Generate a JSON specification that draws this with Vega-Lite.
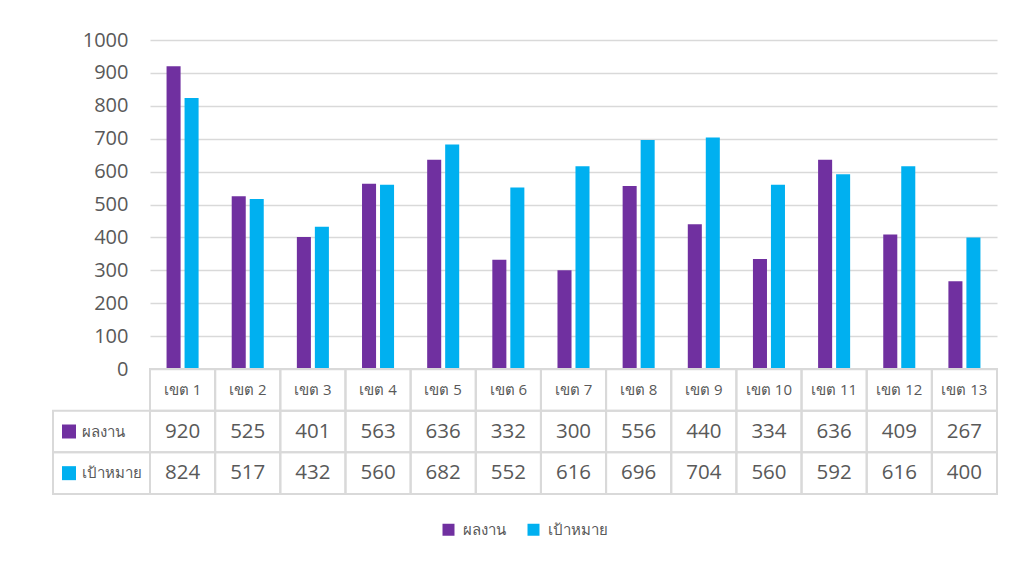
{
  "$schema": "https://vega.github.io/schema/vega-lite/v6.json",
  "padding": {"left": 52, "top": 30, "right": 10, "bottom": 10},
  "background": "white",
  "spacing": 0,
  "bounds": "flush",
  "config": {"view": {"stroke": null}, "font": "Open Sans"},
  "datasets": {
    "bars": [
      {"district": "เขต 1", "series": "ผลงาน", "value": 920},
      {"district": "เขต 2", "series": "ผลงาน", "value": 525},
      {"district": "เขต 3", "series": "ผลงาน", "value": 401},
      {"district": "เขต 4", "series": "ผลงาน", "value": 563},
      {"district": "เขต 5", "series": "ผลงาน", "value": 636},
      {"district": "เขต 6", "series": "ผลงาน", "value": 332},
      {"district": "เขต 7", "series": "ผลงาน", "value": 300},
      {"district": "เขต 8", "series": "ผลงาน", "value": 556},
      {"district": "เขต 9", "series": "ผลงาน", "value": 440},
      {"district": "เขต 10", "series": "ผลงาน", "value": 334},
      {"district": "เขต 11", "series": "ผลงาน", "value": 636},
      {"district": "เขต 12", "series": "ผลงาน", "value": 409},
      {"district": "เขต 13", "series": "ผลงาน", "value": 267},
      {"district": "เขต 1", "series": "เป้าหมาย", "value": 824},
      {"district": "เขต 2", "series": "เป้าหมาย", "value": 517},
      {"district": "เขต 3", "series": "เป้าหมาย", "value": 432},
      {"district": "เขต 4", "series": "เป้าหมาย", "value": 560},
      {"district": "เขต 5", "series": "เป้าหมาย", "value": 682},
      {"district": "เขต 6", "series": "เป้าหมาย", "value": 552},
      {"district": "เขต 7", "series": "เป้าหมาย", "value": 616},
      {"district": "เขต 8", "series": "เป้าหมาย", "value": 696},
      {"district": "เขต 9", "series": "เป้าหมาย", "value": 704},
      {"district": "เขต 10", "series": "เป้าหมาย", "value": 560},
      {"district": "เขต 11", "series": "เป้าหมาย", "value": 592},
      {"district": "เขต 12", "series": "เป้าหมาย", "value": 616},
      {"district": "เขต 13", "series": "เป้าหมาย", "value": 400}
    ]
  },
  "resolve": {"legend": {"color": "independent"}},
  "vconcat": [
    {
      "width": 847,
      "height": 329,
      "data": {"name": "bars"},
      "mark": {"type": "bar"},
      "encoding": {
        "x": {"field": "district", "type": "nominal", "scale": {"domain": ["เขต 1","เขต 2","เขต 3","เขต 4","เขต 5","เขต 6","เขต 7","เขต 8","เขต 9","เขต 10","เขต 11","เขต 12","เขต 13"], "paddingInner": 0, "paddingOuter": 0}, "axis": null},
        "xOffset": {"field": "series", "type": "nominal", "scale": {"domain": ["ผลงาน","เป้าหมาย"], "paddingInner": 0.22, "paddingOuter": 0.92}},
        "y": {"field": "value", "type": "quantitative", "scale": {"domain": [0, 1000]}, "axis": {"values": [0,100,200,300,400,500,600,700,800,900,1000], "format": "d", "domain": false, "ticks": false, "labelPadding": 22, "labelFontSize": 20, "labelColor": "#595959", "gridColor": "#d9d9d9", "gridWidth": 1.3, "title": null}},
        "color": {"field": "series", "type": "nominal", "scale": {"domain": ["ผลงาน","เป้าหมาย"], "range": ["#7030A0","#00B0F0"]}, "legend": null}
      }
    },
    {
      "width": 847,
      "height": 125,
      "data": {"name": "bars"},
      "resolve": {"scale": {"x": "independent"}},
      "layer": [
        {
          "mark": {"type": "rect", "fill": "transparent", "stroke": "#d9d9d9", "strokeWidth": 2},
          "encoding": {
            "x": {"field": "district", "type": "nominal", "scale": {"domain": ["เขต 1","เขต 2","เขต 3","เขต 4","เขต 5","เขต 6","เขต 7","เขต 8","เขต 9","เขต 10","เขต 11","เขต 12","เขต 13"], "paddingInner": 0, "paddingOuter": 0}, "axis": null},
            "y": {"field": "series", "type": "nominal", "scale": {"domain": ["header","ผลงาน","เป้าหมาย"], "paddingInner": 0, "paddingOuter": 0}, "axis": null}
          }
        },
        {
          "transform": [{"filter": "datum.series == 'ผลงาน'"}],
          "mark": {"type": "rect", "fill": "transparent", "stroke": "#d9d9d9", "strokeWidth": 2},
          "encoding": {
            "x": {"field": "district", "type": "nominal", "scale": {"domain": ["เขต 1","เขต 2","เขต 3","เขต 4","เขต 5","เขต 6","เขต 7","เขต 8","เขต 9","เขต 10","เขต 11","เขต 12","เขต 13"], "paddingInner": 0, "paddingOuter": 0}, "axis": null},
            "y": {"datum": "header", "type": "nominal"}
          }
        },
        {
          "mark": {"type": "text", "fontSize": 20.5, "color": "#595959", "baseline": "middle", "align": "center"},
          "encoding": {
            "x": {"field": "district", "type": "nominal", "scale": {"domain": ["เขต 1","เขต 2","เขต 3","เขต 4","เขต 5","เขต 6","เขต 7","เขต 8","เขต 9","เขต 10","เขต 11","เขต 12","เขต 13"], "paddingInner": 0, "paddingOuter": 0}, "axis": null},
            "y": {"field": "series", "type": "nominal"},
            "text": {"field": "value"}
          }
        },
        {
          "transform": [{"filter": "datum.series == 'ผลงาน'"}],
          "mark": {"type": "text", "fontSize": 15, "color": "#595959", "baseline": "middle", "align": "center"},
          "encoding": {
            "x": {"field": "district", "type": "nominal", "scale": {"domain": ["เขต 1","เขต 2","เขต 3","เขต 4","เขต 5","เขต 6","เขต 7","เขต 8","เขต 9","เขต 10","เขต 11","เขต 12","เขต 13"], "paddingInner": 0, "paddingOuter": 0}, "axis": null},
            "y": {"datum": "header", "type": "nominal"},
            "text": {"field": "district"}
          }
        },
        {
          "transform": [{"filter": "datum.district == 'เขต 1'"}],
          "mark": {"type": "rect", "fill": "transparent", "stroke": "#d9d9d9", "strokeWidth": 2},
          "encoding": {
            "x": {"field": "district", "type": "nominal", "scale": {"range": [-97, 0], "paddingInner": 0, "paddingOuter": 0}, "axis": null},
            "y": {"field": "series", "type": "nominal"}
          }
        },
        {
          "transform": [{"filter": "datum.district == 'เขต 1'"}],
          "mark": {"type": "point", "shape": "square", "filled": true, "size": 196, "strokeWidth": 0, "opacity": 1},
          "encoding": {
            "x": {"field": "district", "type": "nominal", "scale": {"range": [-82, -80], "paddingInner": 0, "paddingOuter": 0}, "axis": null},
            "y": {"field": "series", "type": "nominal"},
            "color": {"field": "series", "type": "nominal", "legend": {"orient": "none", "legendX": 291, "legendY": 153, "direction": "horizontal", "title": null, "symbolType": "square", "symbolSize": 144, "symbolStrokeWidth": 0, "symbolOpacity": 1, "labelFontSize": 15, "labelColor": "#595959", "columnPadding": 20, "labelOffset": 7}}
          }
        },
        {
          "transform": [{"filter": "datum.district == 'เขต 1'"}],
          "mark": {"type": "text", "fontSize": 15, "color": "#595959", "baseline": "middle", "align": "left"},
          "encoding": {
            "x": {"field": "district", "type": "nominal", "scale": {"range": [-69, -67], "paddingInner": 0, "paddingOuter": 0}, "axis": null},
            "y": {"field": "series", "type": "nominal"},
            "text": {"field": "series"}
          }
        }
      ]
    }
  ]
}
